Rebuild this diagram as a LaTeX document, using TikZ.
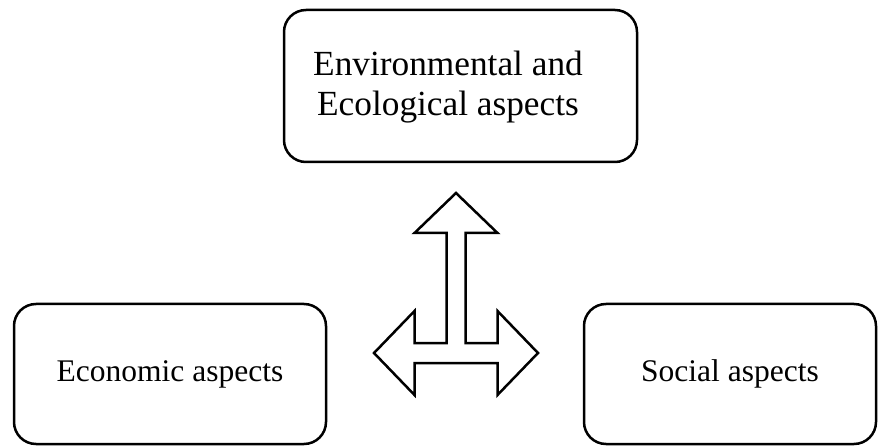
\documentclass[tikz,border=0pt]{standalone}
\usepackage{fontspec}
\setmainfont{Liberation Serif}
\begin{document}
\begin{tikzpicture}[x=1pt,y=-1pt,
  aspectbox/.style={draw=black, line width=2.5pt, rounded corners=22pt,
    inner sep=0pt, font=\fontsize{31.5}{39}\selectfont, align=center},
  aspecttext/.style={font=\fontsize{35.3}{40}\selectfont, align=center, inner sep=0pt},
  outline/.style={draw=black, line width=2.5pt, fill=white, line join=miter}]
  \useasboundingbox (0,0) rectangle (878,446);

  % three aspect boxes
  \node[aspectbox, minimum width=353pt, minimum height=152pt] (env) at (460.5,86) {};
  \node[aspecttext] (envtext) at (448,87) {Environmental and\\Ecological aspects};
  \node[aspectbox, minimum width=312pt, minimum height=140pt] (eco) at (170,374)
    {Economic aspects};
  \node[aspectbox, minimum width=292pt, minimum height=140pt] (soc) at (730,374)
    {Social aspects};

  % three-way block arrow between the aspects
  \draw[outline] (456,193) -- (497.5,233) -- (465.5,233) -- (465.5,343)
    -- (497.5,343) -- (497.5,311) -- (538,353) -- (497.5,395) -- (497.5,363)
    -- (414.5,363) -- (414.5,395) -- (374,353) -- (414.5,311) -- (414.5,343)
    -- (446.5,343) -- (446.5,233) -- (414.5,233) -- cycle;
\end{tikzpicture}
\end{document}
